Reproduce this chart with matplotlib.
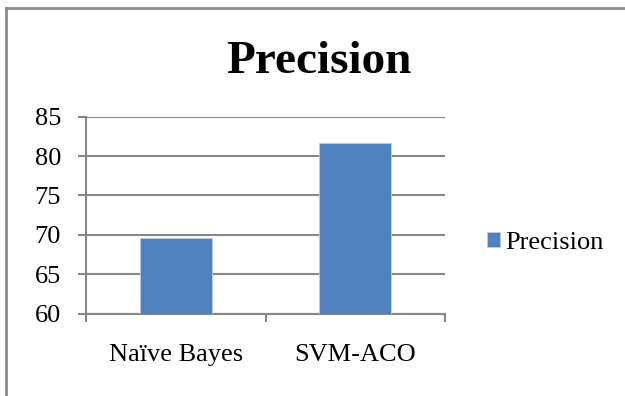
import matplotlib
matplotlib.use('Agg')
import matplotlib.pyplot as plt
from matplotlib.lines import Line2D
import numpy as np

categories = ['Naïve Bayes', 'SVM-ACO']
precision = [69.6, 81.7]
y_ticks = [60, 65, 70, 75, 80, 85]

plt.rcParams['font.family'] = ['Liberation Serif', 'DejaVu Serif']

bar_color = '#4F81BD'
grid_color = '#878787'
label_size = 19

fig = plt.figure(figsize=(6.25, 3.96), dpi=100)
ax = fig.add_axes([0.1376, 0.2083, 0.5744, 0.497])

x = np.arange(len(categories))
ax.bar(x, precision, width=0.4, color=bar_color, edgecolor='#b8cce4',
       linewidth=0.6, zorder=3, label='Precision')

ax.set_xlim(-0.5, len(categories) - 0.5)
ax.set_ylim(y_ticks[0], y_ticks[-1])
ax.set_yticks(y_ticks)
ax.set_yticklabels([str(v) for v in y_ticks])
ax.yaxis.grid(True, color=grid_color, linewidth=1.5, zorder=0)

# category boundaries get the tick marks, names sit in between
ax.set_xticks(np.arange(-0.5, len(categories), 1.0))
ax.set_xticklabels([])
ax.set_xticks(x, minor=True)
ax.set_xticklabels(categories, minor=True)
ax.tick_params(axis='x', which='major', length=6, width=1.5, color=grid_color, direction='out')
ax.tick_params(axis='x', which='minor', length=0, pad=22, labelsize=label_size)
ax.tick_params(axis='y', length=6, width=1.5, color=grid_color, pad=12, labelsize=label_size)

for side in ['top', 'right']:
    ax.spines[side].set_visible(False)
for side in ['left', 'bottom']:
    ax.spines[side].set_color(grid_color)
    ax.spines[side].set_linewidth(1.5)

fig.text(0.5096, 0.815, 'Precision', ha='center', va='baseline',
         fontsize=34, fontweight='bold')

fig.legend(loc='center left', bbox_to_anchor=(0.779, 0.386), frameon=False,
           fontsize=label_size, handlelength=0.5, handleheight=0.5,
           handletextpad=0.2, borderpad=0, borderaxespad=0)

# chart area border (only top and left edges fall inside the image)
fig.add_artist(Line2D([5.5 / 625, 5.5 / 625], [0, 1 - 7.5 / 396],
                      transform=fig.transFigure, color='#8c8c8c', linewidth=2))
fig.add_artist(Line2D([5.5 / 625, 1], [1 - 7.5 / 396, 1 - 7.5 / 396],
                      transform=fig.transFigure, color='#8c8c8c', linewidth=2))

fig.savefig('out.png', dpi=100)
